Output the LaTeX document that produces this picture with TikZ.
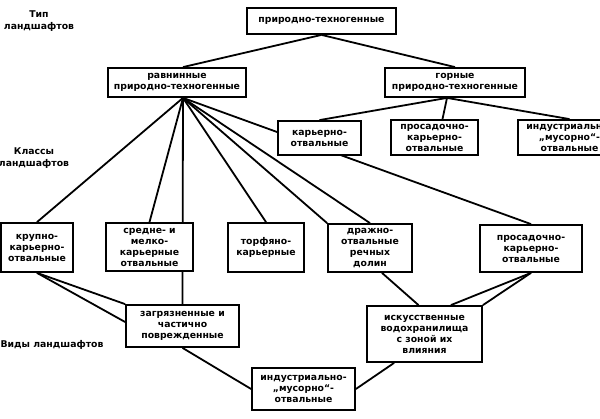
\documentclass[tikz,border=0pt]{standalone}
\usepackage{fontspec}
\newfontfamily\schemefont{DejaVu Sans}
\usetikzlibrary{backgrounds}
\tikzset{
  box/.style={draw,line width=1.8pt,fill=white,align=center,inner sep=1pt,
    font=\schemefont\bfseries\fontsize{9.3}{11}\selectfont},
  lbl/.style={align=center,inner sep=0pt,font=\schemefont\bfseries\fontsize{9.3}{12}\selectfont},
  link/.style={line width=1.8pt}
}
\begin{document}
\begin{tikzpicture}[x=1pt,y=-1pt]
\useasboundingbox (0,0) rectangle (600,419);
\node[lbl] (lbltype) at (39,21) {Тип\\ландшафтов};
\node[lbl] (lblclass) at (34,158) {Классы\\ландшафтов};
\node[lbl] (lblkind) at (52,345) {Виды ландшафтов};
\foreach \nm/\x/\y/\w/\h/\txt in {
    top/321.5/21/149/26/{природно-техногенные},
    ravn/177/82.5/138/29/{равнинные\\природно-техногенные},
    gorn/455/82.5/140/29/{горные\\природно-техногенные},
    karot/319.5/138/83/34/{карьерно-\\отвальные},
    prosU/434.5/137.5/87/35/{просадочно-\\карьерно-\\отвальные},
    indU/569.5/137.5/103/35/{индустриально-\\„мусорно“-\\отвальные},
    krup/37/247.5/72/49/{крупно-\\карьерно-\\отвальные},
    sred/149.5/247/87/48/{средне- и\\мелко-\\карьерные\\отвальные},
    torf/266/247.5/76/49/{торфяно-\\карьерные},
    drazh/370/248/84/48/{дражно-\\отвальные\\речных\\долин},
    prosL/531/248.5/102/47/{просадочно-\\карьерно-\\отвальные},
    zagr/182.5/326/113/42/{загрязненные и\\частично\\поврежденные},
    isk/424.5/334/115/56/{искусственные\\водохранилища\\с зоной их\\влияния},
    indB/303.5/389/103/42/{индустриально-\\„мусорно“-\\отвальные}}
    \node[box,minimum width=\w pt,minimum height=\h pt] (\nm) at (\x,\y) {\txt};
\coordinate (ravnhead) at ([xshift=6pt]ravn.north);
\coordinate (ravnfoot) at ([xshift=6pt]ravn.south);
\coordinate (gornfoot) at ([xshift=-8pt]gorn.south);
\coordinate (prosUtop) at ([xshift=8pt]prosU.north);
\coordinate (zagrside) at ([yshift=4pt]zagr.west);
\coordinate (drazhfoot) at ([xshift=12pt]drazh.south);
\coordinate (isktop) at ([xshift=-6pt]isk.north);
\coordinate (iskmid) at ([xshift=-32pt]isk.north east);
\coordinate (iskfoot) at ([xshift=28pt]isk.south west);
\begin{scope}[on background layer]
\foreach \a/\b in {top.south/ravnhead, top.south/gorn.north,
    gornfoot/karot.north, gornfoot/prosUtop, gornfoot/indU.north,
    ravnfoot/krup.north, ravnfoot/sred.north, ravnfoot/zagr.north,
    ravnfoot/torf.north, ravnfoot/drazh.north west, ravnfoot/drazh.north,
    ravnfoot/prosL.north,
    krup.south/zagr.north west, krup.south/zagrside,
    drazhfoot/isktop, prosL.south/iskmid, prosL.south/isk.north east,
    zagr.south/indB.west, iskfoot/indB.east}
    \draw[link] (\a) -- (\b);
\end{scope}
\end{tikzpicture}
\end{document}
